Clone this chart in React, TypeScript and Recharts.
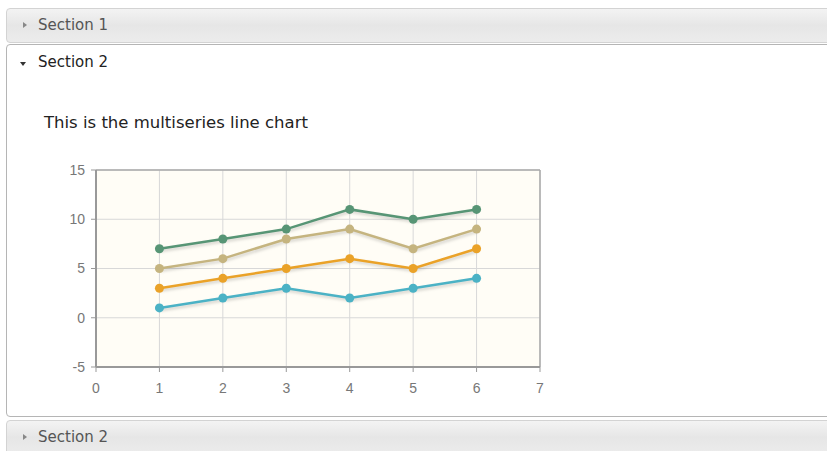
import React from "react";
import { LineChart, Line, XAxis, YAxis, CartesianGrid, ReferenceLine } from "recharts";

const xValues = [1, 2, 3, 4, 5, 6];
const seriesBlue = [1, 2, 3, 2, 3, 4];
const seriesOrange = [3, 4, 5, 6, 5, 7];
const seriesTan = [5, 6, 8, 9, 7, 9];
const seriesGreen = [7, 8, 9, 11, 10, 11];
const xTicks = [0, 1, 2, 3, 4, 5, 6, 7];
const yTicks = [-5, 0, 5, 10, 15];

const data = xValues.map((x, i) => ({
    x,
    s1: seriesBlue[i],
    s2: seriesOrange[i],
    s3: seriesTan[i],
    s4: seriesGreen[i],
}));

const font = "'DejaVu Sans', Verdana, sans-serif";
const tickFont = { fill: "#777", fontSize: 14, fontFamily: "'Liberation Sans', Arial, sans-serif" };

const headerStyle = (top: number): React.CSSProperties => ({
    position: "absolute",
    left: 6,
    top,
    width: 840,
    height: 35,
    boxSizing: "border-box",
    border: "1px solid #d3d3d3",
    borderRadius: 4,
    background: "linear-gradient(#f3f3f3, #e6e6e6 50%, #ececec)",
    fontFamily: font,
    fontSize: 15,
    color: "#555",
    lineHeight: "33px",
    paddingLeft: 31,
});

function Arrow({ open }: { open?: boolean }) {
    return open ? (
        <span style={{ position: "absolute", left: 13, top: 16, width: 0, height: 0, borderLeft: "3.5px solid transparent", borderRight: "3.5px solid transparent", borderTop: "4px solid #333" }} />
    ) : (
        <span style={{ position: "absolute", left: 16, top: 13, width: 0, height: 0, borderTop: "3.5px solid transparent", borderBottom: "3.5px solid transparent", borderLeft: "4px solid #888" }} />
    );
}

export default function App() {
    const lineProps = { type: "linear" as const, strokeWidth: 2.5, isAnimationActive: false };
    return (
        <div style={{ position: "absolute", left: 0, top: 0, width: 827, height: 451, overflow: "hidden", background: "#fff" }}>
            <style>{`.recharts-line-curve{filter:drop-shadow(1px 2px 1.5px rgba(0,0,0,0.18));}`}</style>
            <div style={headerStyle(8)}>
                <Arrow />
                Section 1
            </div>
            <div
                style={{
                    position: "absolute",
                    left: 6,
                    top: 44,
                    width: 840,
                    height: 373,
                    boxSizing: "border-box",
                    border: "1px solid #b5b5b5",
                    borderRadius: 4,
                    background: "#fff",
                    fontFamily: font,
                }}
            >
                <div style={{ position: "absolute", left: 0, top: 1, height: 34, lineHeight: "33px", paddingLeft: 31, fontSize: 15, color: "#222" }}>
                    <Arrow open />
                    Section 2
                </div>
                <div style={{ position: "absolute", left: 37, top: 68, fontSize: 16.5, color: "#222" }}>
                    This is the multiseries line chart
                </div>
                <div style={{ position: "absolute", left: 33, top: 110 }}>
                    <LineChart width={560} height={260} data={data} margin={{ top: 15, right: 60, left: 0, bottom: 18 }}>
                        <CartesianGrid stroke="#d8d8d8" fill="#fffdf6" />
                        <XAxis
                            dataKey="x"
                            type="number"
                            domain={[0, 7]}
                            ticks={xTicks}
                            interval={0}
                            height={30}
                            tickSize={5}
                            tickMargin={11}
                            axisLine={{ stroke: "#999", strokeWidth: 2 }}
                            tickLine={{ stroke: "#999" }}
                            tick={tickFont}
                        />
                        <YAxis
                            type="number"
                            domain={[-5, 15]}
                            ticks={yTicks}
                            interval={0}
                            width={56}
                            tickSize={5}
                            tickMargin={6}
                            axisLine={{ stroke: "#999", strokeWidth: 2 }}
                            tickLine={{ stroke: "#999" }}
                            tick={tickFont}
                        />
                        <ReferenceLine y={15} stroke="#aaa" strokeWidth={1.5} />
                        <ReferenceLine x={7} stroke="#aaa" strokeWidth={1.5} />
                        <Line {...lineProps} dataKey="s1" stroke="#4bb2c5" dot={{ r: 4.5, fill: "#4bb2c5", stroke: "none" }} />
                        <Line {...lineProps} dataKey="s2" stroke="#EAA228" dot={{ r: 4.5, fill: "#EAA228", stroke: "none" }} />
                        <Line {...lineProps} dataKey="s3" stroke="#c5b47f" dot={{ r: 4.5, fill: "#c5b47f", stroke: "none" }} />
                        <Line {...lineProps} dataKey="s4" stroke="#579575" dot={{ r: 4.5, fill: "#579575", stroke: "none" }} />
                    </LineChart>
                </div>
            </div>
            <div style={headerStyle(420)}>
                <Arrow />
                Section 2
            </div>
        </div>
    );
}
